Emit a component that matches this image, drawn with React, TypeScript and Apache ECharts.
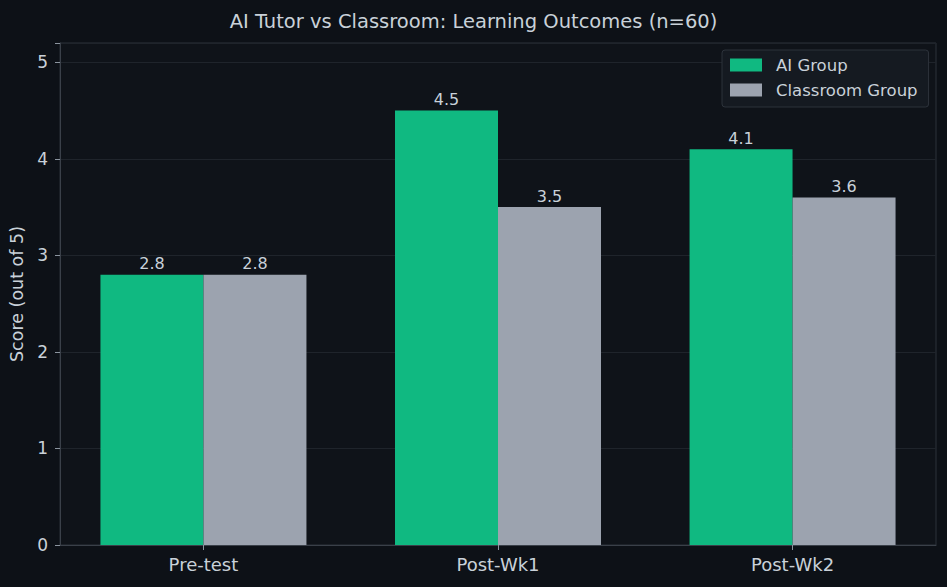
import React, { useEffect, useRef } from "react";
import * as echarts from "echarts";

const categories = ["Pre-test", "Post-Wk1", "Post-Wk2"];
const aiGroup = [2.8, 4.5, 4.1];
const classroomGroup = [2.8, 3.5, 3.6];
const seriesNames = ["AI Group", "Classroom Group"];
const yTicks = [0, 1, 2, 3, 4, 5];
const titleText = "AI Tutor vs Classroom: Learning Outcomes (n=60)";
const yAxisName = "Score (out of 5)";

const FONT = "'DejaVu Sans', sans-serif";
const TEXT = "#c9d1d9";

export default function App() {
  const ref = useRef<HTMLDivElement>(null);
  useEffect(() => {
    if (!ref.current) return;
    const chart = echarts.init(ref.current, null, { renderer: "svg" });
    const catIdx = categories.map((_, i) => i);
    const label = {
      show: true,
      position: "top",
      distance: 3,
      color: TEXT,
      fontSize: 16,
      fontFamily: FONT,
      formatter: (p: any) => Number(p.value[1]).toFixed(1),
    };
    chart.setOption({
      animation: false,
      backgroundColor: "#0d1117",
      textStyle: { fontFamily: FONT },
      title: {
        text: titleText,
        left: "center",
        top: 6,
        textStyle: { color: TEXT, fontSize: 19.5, fontWeight: "normal", fontFamily: FONT },
      },
      grid: {
        left: 60,
        right: 11,
        top: 43,
        bottom: 42,
        outerBoundsMode: "none",
        containLabel: false,
        show: true,
        borderColor: "#2d333b",
        borderWidth: 1,
        backgroundColor: "#0f1319",
      },
      legend: {
        orient: "vertical",
        left: 722,
        top: 50,
        padding: [6.5, 11, 8.5, 8],
        itemWidth: 32,
        itemHeight: 13,
        itemGap: 8,
        icon: "rect",
        backgroundColor: "#151a21",
        borderColor: "#2d333b",
        borderWidth: 1,
        borderRadius: 3,
        textStyle: {
          color: TEXT,
          fontSize: 16.5,
          lineHeight: 17,
          fontFamily: FONT,
          padding: [0, 0, 0, 9],
        },
        data: seriesNames,
      },
      xAxis: {
        type: "value",
        min: -0.487,
        max: 2.487,
        axisLine: { show: true, onZero: false, lineStyle: { color: "#3a4049" } },
        axisTick: {
          show: true,
          customValues: catIdx,
          length: 5,
          lineStyle: { color: "#8b949e" },
        },
        axisLabel: {
          customValues: catIdx,
          color: TEXT,
          fontSize: 18,
          fontFamily: FONT,
          margin: 10,
          formatter: (v: number) => categories[Math.round(v)] ?? "",
        },
        splitLine: { show: false },
      },
      yAxis: {
        type: "value",
        min: 0,
        max: 5.2,
        interval: 1,
        name: yAxisName,
        nameLocation: "middle",
        nameGap: 31,
        nameTextStyle: { color: TEXT, fontSize: 17.5, fontFamily: FONT },
        axisLine: { show: true, onZero: false, lineStyle: { color: "#3a4049" } },
        axisTick: { show: true, length: 5, lineStyle: { color: "#8b949e" } },
        axisLabel: {
          color: TEXT,
          fontSize: 17,
          fontFamily: FONT,
          margin: 12,
          formatter: (v: number) => (yTicks.includes(v) ? String(v) : ""),
        },
        splitLine: { show: true, lineStyle: { color: "#1f242b", width: 1 } },
      },
      series: [
        {
          name: seriesNames[0],
          type: "bar",
          data: aiGroup.map((v, i) => [i, v]),
          barWidth: 103,
          barGap: "0%",
          itemStyle: { color: "#10b981" },
          label,
        },
        {
          name: seriesNames[1],
          type: "bar",
          data: classroomGroup.map((v, i) => [i, v]),
          barWidth: 103,
          barGap: "0%",
          itemStyle: { color: "#9ca3af" },
          label,
        },
      ],
    });
    return () => chart.dispose();
  }, []);
  return <div ref={ref} style={{ width: 947, height: 587, position: "absolute", left: 0, top: 0 }} />;
}
